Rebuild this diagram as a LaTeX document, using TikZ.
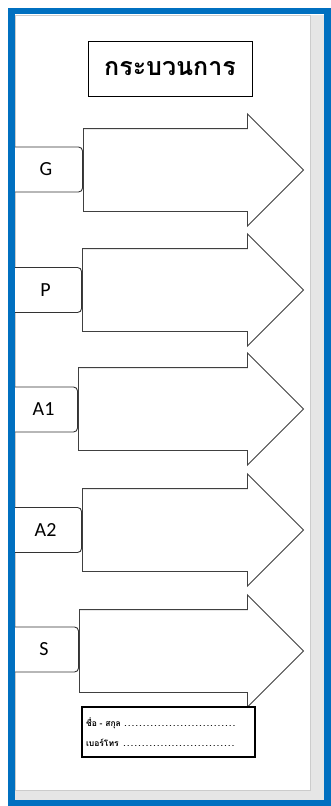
\documentclass[tikz,border=0pt]{standalone}
\usepackage{fontspec}
\setmainfont{Carlito}
\newfontfamily\thaifont[Script=Thai]{Loma}
\usetikzlibrary{shapes.arrows, positioning}
\definecolor{frameblue}{RGB}{0,112,192}
\definecolor{shadegray}{RGB}{230,230,230}
\definecolor{linegray}{RGB}{64,64,64}

\begin{document}
\begin{tikzpicture}[x=1pt, y=-1pt,
  stagearrow/.style={draw=linegray, line width=0.9pt, fill=white, single arrow, single arrow head extend=14.5pt, inner xsep=0pt, inner ysep=41pt, anchor=tail},
  stagetab/.style={draw=black!80, line width=0.9pt, fill=white, rounded corners=4pt, minimum height=45pt, inner sep=0pt, anchor=east, font=\fontsize{20}{24}\selectfont},
  titlebox/.style={draw, line width=0.9pt, minimum width=164pt, minimum height=55pt, font=\thaifont\bfseries\fontsize{25}{30}\selectfont},
  infobox/.style={draw, line width=1.1pt, minimum width=173pt, minimum height=50pt, text width=165pt, inner xsep=4pt, align=left, font=\thaifont\bfseries\fontsize{8.5}{20}\selectfont}
]
  \useasboundingbox (0,0) rectangle (331,806);
  % page and shadow
  \fill[shadegray] (15,15) rectangle (325,801);
  \filldraw[fill=white, draw=black!20] (15,15) rectangle (310,790);

  \node[titlebox] (title) at (170,68.5) {กระบวนการ};

  % stage arrows
  \node[stagearrow, minimum height=220pt] (arrG) at (83,170) {};
  \node[stagearrow, minimum height=221pt] (arrP) at (82,290) {};
  \node[stagearrow, minimum height=225pt] (arrA1) at (78,409) {};
  \node[stagearrow, minimum height=221pt] (arrA2) at (82,530) {};
  \node[stagearrow, minimum height=224pt] (arrS) at (79,651) {};

  % stage tabs
  \node[stagetab, minimum width=73pt] (tabG) at (83,169.5) {G};
  \node[stagetab, minimum width=72pt] (tabP) at (82,290) {P};
  \node[stagetab, minimum width=68pt] (tabA1) at (78,409.5) {A1};
  \node[stagetab, minimum width=72pt] (tabA2) at (82,530) {A2};
  \node[stagetab, minimum width=69pt] (tabS) at (79,649.5) {S};

  \node[infobox] (info) at (168.5,732) {
    \makebox[150pt][l]{ชื่อ - สกุล \dotfill}\\
    \makebox[150pt][l]{เบอร์โทร \dotfill}
  };

  % frame
  \draw[frameblue, line width=6.5pt] (11.5,11) rectangle (327.5,803);
\end{tikzpicture}
\end{document}
